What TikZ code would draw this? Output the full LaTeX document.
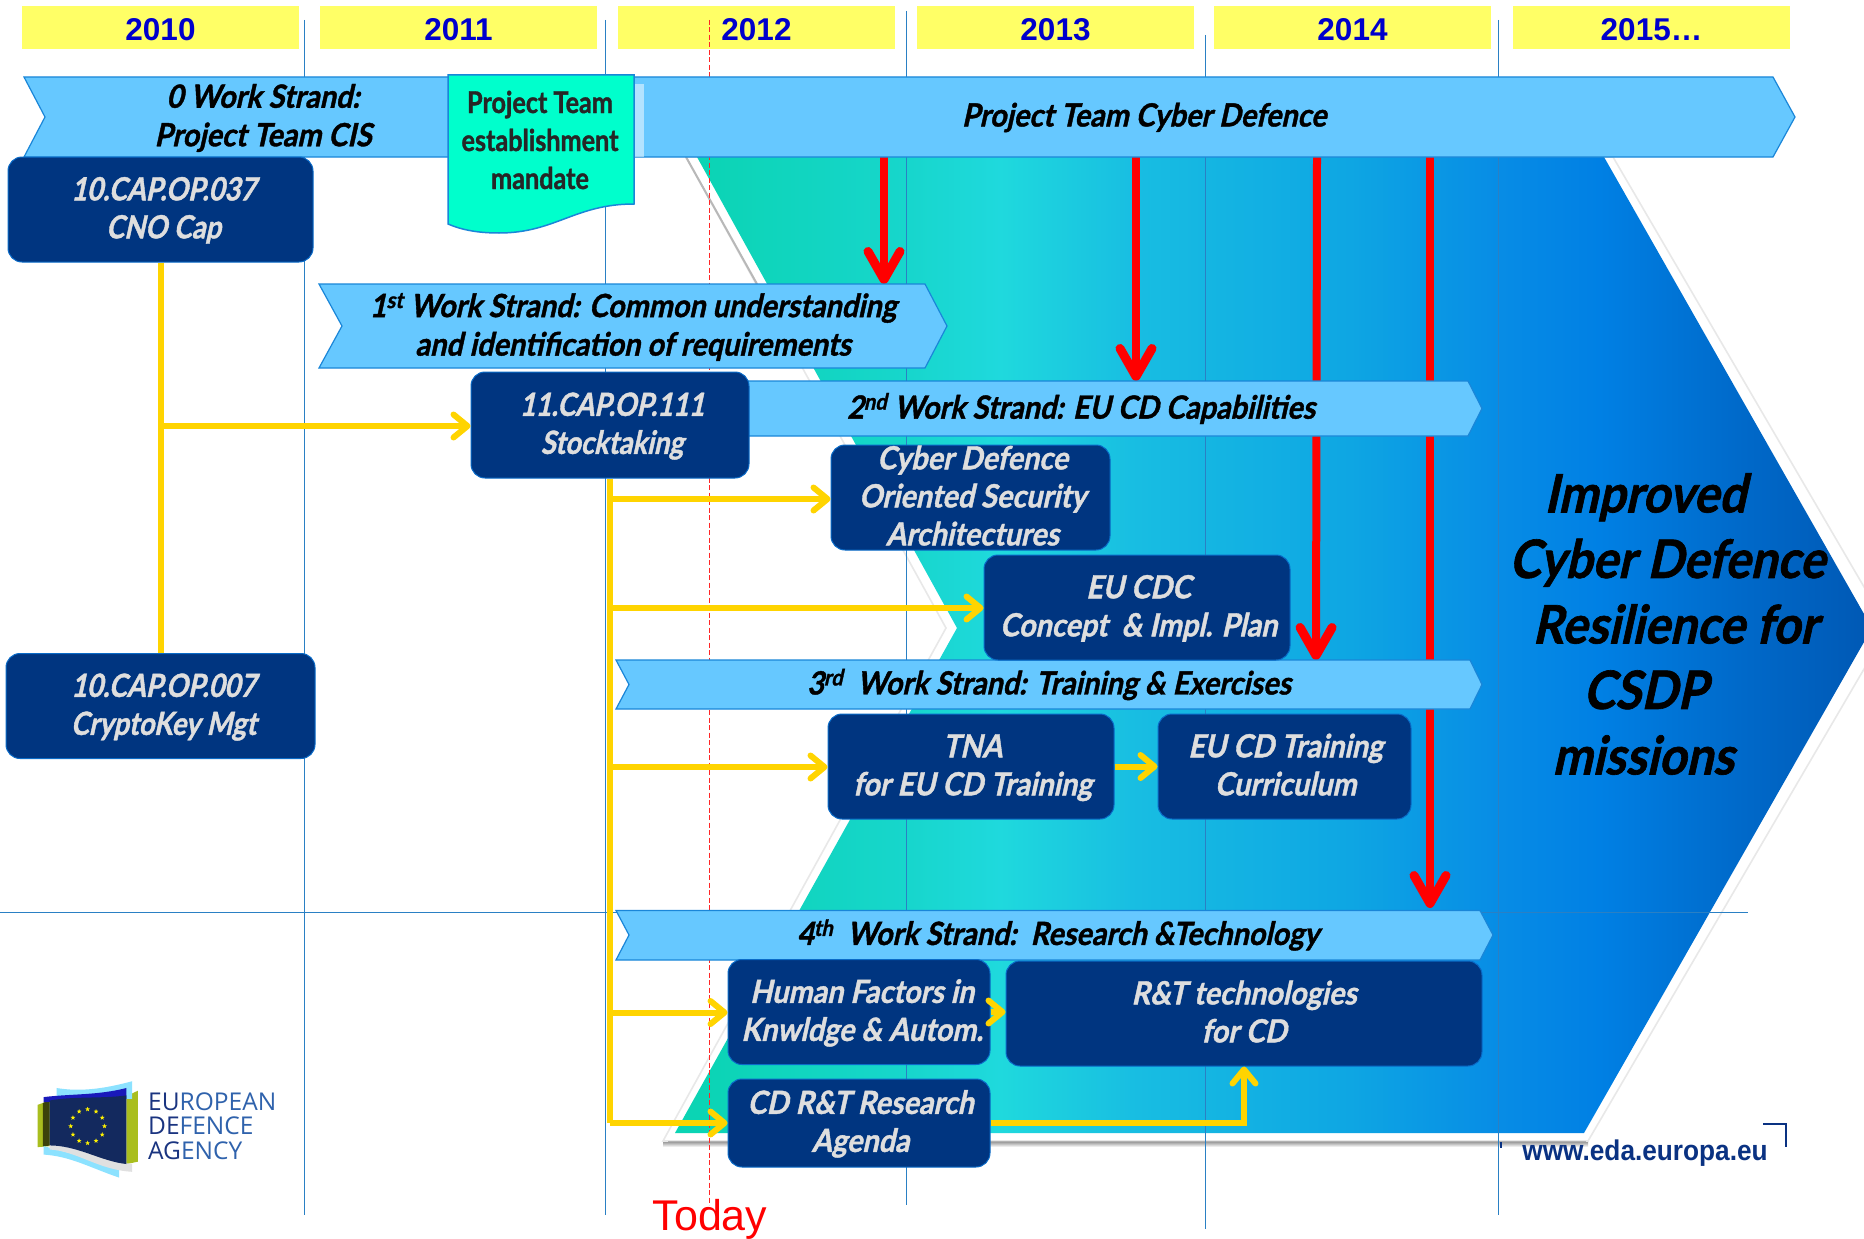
\documentclass[tikz,border=0pt]{standalone}
\usepackage{fontspec}
\setmainfont{Liberation Sans}
\newfontfamily\condfam[FakeStretch=0.9,FakeSlant=0.22,BoldFeatures={FakeBold=1.2}]{Lato}
\newfontfamily\capfam[FakeStretch=0.85,FakeSlant=0.22,BoldFeatures={FakeBold=1.2}]{Lato}
\newfontfamily\docfam[FakeStretch=0.84,BoldFeatures={FakeBold=1.2}]{Lato}
\newfontfamily\narrowfam[FakeStretch=0.92]{Liberation Sans}
\newfontfamily\logofam{Open Sans}
\usetikzlibrary{arrows.meta,shapes.geometric}
\definecolor{yearbg}{HTML}{FFFF66}
\definecolor{yearfg}{HTML}{0000CC}
\definecolor{band}{HTML}{66C8FF}
\definecolor{bandedge}{HTML}{1A86D8}
\definecolor{navybox}{HTML}{003580}
\definecolor{navyedge}{HTML}{0A6BC8}
\definecolor{boxtext}{HTML}{DEDEDE}
\definecolor{gridblue}{HTML}{2A80C4}
\definecolor{docfill}{HTML}{00FFCC}
\definecolor{arrowyellow}{HTML}{FFD400}
\definecolor{logonavy}{HTML}{13295E}
\definecolor{logoolive}{HTML}{A9BE1E}
\definecolor{logoblue}{HTML}{2F62AC}
\definecolor{logodark}{HTML}{1A3480}
\definecolor{weburl}{HTML}{0A3282}
\definecolor{cga}{HTML}{0BD4B4}
\definecolor{cgb}{HTML}{17D6CC}
\definecolor{cgc}{HTML}{1FD9DD}
\definecolor{cgd}{HTML}{18BDE2}
\definecolor{cge}{HTML}{0EA6E3}
\definecolor{cgf}{HTML}{078CE5}
\definecolor{cgg}{HTML}{0080E4}
\definecolor{cgh}{HTML}{0068C8}
\definecolor{cgi}{HTML}{0058B4}
\pgfdeclarehorizontalshading{chevgrad}{100bp}{
 color(0bp)=(cga);
 color(26bp)=(cga);
 color(34.7bp)=(cgb);
 color(38.6bp)=(cgc);
 color(44.3bp)=(cgd);
 color(53.2bp)=(cge);
 color(59.5bp)=(cgf);
 color(63.6bp)=(cgg);
 color(69.9bp)=(cgh);
 color(75bp)=(cgi);
 color(100bp)=(cgi)}
\newcommand{\tx}[2]{\kern#1pt\smash{\raisebox{-8.5pt}{\begin{tabular}{@{}c@{}}#2\end{tabular}}}}
\newcommand{\capcode}[1]{{\capfam\bfseries #1}}
\newcommand{\yr}[1]{\smash{\raisebox{-12.7pt}{#1}}}
\newcommand{\boxfont}{\fontsize{32}{38}\selectfont\condfam\bfseries}
\newcommand{\bandfont}{\fontsize{32}{38.5}\selectfont\condfam\bfseries}
\tikzset{
 x=1pt,y=-1pt,
 yearbox/.style={fill=yearbg,text=yearfg,font=\fontsize{31.5}{36}\selectfont\bfseries,minimum width=277pt,minimum height=43pt,inner sep=0pt},
 gridline/.style={draw=gridblue,line width=1pt},
 strandshape/.style={fill=band,draw=bandedge,line width=1.2pt},
 bandtext/.style={font=\bandfont,text=black,inner sep=0pt},
 capbox/.style={fill=navybox,draw=navyedge,line width=1pt,rounded corners=14pt,inner sep=0pt,text=boxtext,font=\boxfont},
 redlink/.style={draw=red,line width=8pt,-{Straight Barb[length=28pt,width=32pt,line width=9pt,round]}},
 ylink/.style={draw=arrowyellow,line width=6pt,-{Straight Barb[length=14pt,width=23pt,line width=6pt,round]},
   preaction={draw=black!60,opacity=.28,transform canvas={yshift=-2.5pt}}},
 ytrunk/.style={draw=arrowyellow,line width=6pt,
   preaction={draw=black!60,opacity=.25,transform canvas={xshift=-2pt}}},
}
\begin{document}
\begin{tikzpicture}
\useasboundingbox (0,0) rectangle (1864,1239);
\clip (0,0) rectangle (1864,1239);
\fill[white] (0,0) rectangle (1864,1239);

% big chevron
\shade[top color=black!45,bottom color=white] (663,1141) rectangle (1588,1147);
\path[fill=white,draw=black!9,line width=1.6pt] (686,157) -- (946,628) -- (663,1141) -- (1588,1141) -- (1888,628) -- (1613,157) -- cycle;
\draw[black!28,line width=2pt] (686,157) -- (757,284);
\draw[black!30,line width=1.5pt] (668,1141.5) -- (1586,1141.5);
\path[shade,shading=chevgrad] (697,157) -- (957,628) -- (675,1133) -- (1584,1133) -- (1872,628) -- (1604,157) -- cycle;

% grid
\draw[gridline] (304,20) -- (304,1215);
\draw[gridline] (605,20) -- (605,1215);
\draw[gridline] (906,11) -- (906,1205);
\draw[gridline] (1205.5,35) -- (1205.5,1229);
\draw[gridline] (1498,20) -- (1498,1215);
\draw[gridline] (0,912.5) -- (1748,912.5);

% years
\node[yearbox] (y10) at (160.5,28) {\yr{2010}};
\node[yearbox] (y11) at (458.5,28) {\yr{2011}};
\node[yearbox] (y12) at (756.5,28) {\yr{2012}};
\node[yearbox] (y13) at (1055.5,28) {\yr{2013}};
\node[yearbox] (y14) at (1352.5,28) {\yr{2014}};
\node[yearbox] (y15) at (1651.5,28) {\yr{2015\ldots}};

% today
\draw[red!85!white,line width=1pt,dash pattern=on 5pt off 2.5pt] (709,20) -- (709,1205);
\node[text=red,font=\fontsize{43}{48}\selectfont,inner sep=0pt] (today) at (710,1219) {Today};

% red arrows
\coordinate (r1s) at (884,157); \coordinate (r1e) at (884,284);
\coordinate (r2s) at (1136,157); \coordinate (r2e) at (1136,381);
\coordinate (r3s) at (1317,157); \coordinate (r3e) at (1316,660);
\coordinate (r4s) at (1430,157); \coordinate (r4e) at (1430,908);
\draw[redlink] (r1s) -- (r1e);
\draw[redlink] (r2s) -- (r2e);
\draw[redlink] (r3s) -- (r3e);
\draw[redlink] (r4s) -- (r4e);

% top band
\path[strandshape] (24,77) -- (1773,77) -- (1795,117) -- (1773,157) -- (24,157) -- (45,117) -- cycle;
\fill[white,opacity=.5] (634,84) rectangle (644,157);
\node[bandtext,align=center] (b0) at (263,118) {0 Work Strand:\\Project Team CIS};
\node[bandtext] (bcd) at (1144,117.5) {Project Team Cyber Defence};

% mandate document
\path[fill=docfill,draw=bandedge,line width=1.5pt] (448,75) -- (634,75) -- (634,204) .. controls (575,204) and (555,233) .. (499,233) .. controls (478,233) and (462,230) .. (448,224) -- cycle;
\node[inner sep=0pt,align=center,text=black!85,font=\fontsize{30}{38}\selectfont\docfam\bfseries] (doc) at (540,140) {Project Team\\establishment\\mandate};

% strands
\path[strandshape] (319,284) -- (925,284) -- (947,326) -- (925,368) -- (319,368) -- (342,326) -- cycle;
\node[bandtext,align=center] (s1) at (633,327) {1\textsuperscript{st} Work Strand: Common understanding\\and identification of requirements};
\path[strandshape] (735,381) -- (1468,381) -- (1482,408.5) -- (1468,436) -- (735,436) -- cycle;
\node[bandtext] (s2) at (1081,408.5) {2\textsuperscript{nd} Work Strand: EU CD Capabilities};
\path[strandshape] (616,660) -- (1470,660) -- (1482,684.5) -- (1470,709) -- (616,709) -- (629,684.5) -- cycle;
\node[bandtext] (s3) at (1049,684.5) {3\textsuperscript{rd}\ \ Work Strand: Training \& Exercises};
\path[strandshape] (616,910.5) -- (1480,910.5) -- (1493,935) -- (1480,960) -- (616,960) -- (629,935) -- cycle;
\node[bandtext] (s4) at (1058,935) {4\textsuperscript{th}\ \ Work Strand:\ \ Research \&Technology};

% yellow trunks and links (below the boxes)
\coordinate (t1) at (160.5,426);
\coordinate (t2) at (610,499);
\coordinate (t3) at (610,608);
\coordinate (t4) at (610,767);
\coordinate (t5) at (610,1012.5);
\coordinate (t6) at (610,1123);

% boxes
\node[capbox,minimum width=305pt,minimum height=105pt] (A) at (160.5,209.5) {\tx{6}{\capcode{10.CAP.OP.037}\\\capcode{CNO Cap}}};
\node[capbox,minimum width=309pt,minimum height=105pt] (B) at (160.5,706) {\tx{6}{\capcode{10.CAP.OP.007}\\\capcode{CryptoKey Mgt}}};
\node[capbox,minimum width=278pt,minimum height=106pt] (C) at (610,425) {\tx{4}{\capcode{11.CAP.OP.111}\\\capcode{Stocktaking}}};
\node[capbox,minimum width=279pt,minimum height=105pt] (D) at (970.5,497.5) {\tx{4}{Cyber Defence\\Oriented Security\\Architectures}};
\node[capbox,minimum width=306pt,minimum height=105pt] (E) at (1137,607.5) {\tx{3}{EU CDC\\Concept \ \& Impl. Plan}};
\node[capbox,minimum width=286pt,minimum height=105pt] (F) at (971,766.5) {\tx{3}{TNA\\for EU CD Training}};
\node[capbox,minimum width=253pt,minimum height=105pt] (G) at (1284.5,766.5) {\tx{2}{EU CD Training\\Curriculum}};
\node[capbox,minimum width=262pt,minimum height=105pt] (H) at (859,1012) {\tx{6}{Human Factors in\\Knwldge \& Autom.}};
\node[capbox,minimum width=476pt,minimum height=105pt] (I) at (1244,1013.5) {\tx{0}{R\&T technologies\\for CD}};
\node[capbox,minimum width=262pt,minimum height=88pt] (J) at (859,1123) {\tx{3}{CD R\&T Research\\Agenda}};

% links
\draw[ytrunk] (A.south) -- (B.north);
\draw[ytrunk] (C.south) -- (t6);
\draw[ylink] (t1) -- (t1 -| C.west);
\draw[ylink] (t2) -- (t2 -| D.west);
\draw[ylink] (t3) -- (t3 -| E.west);
\draw[ylink] (t4) -- (t4 -| F.west);
\draw[ylink] (t5) -- (t5 -| H.west);
\draw[ylink] (t6) -- (J.west);
\draw[ylink] (F.east) -- (G.west);
\draw[ylink] (H.east) -- (H.east -| I.west);
\draw[ylink] (J.east) -- (J.east -| I.south) -- (I.south);

% outcome text
\node[inner sep=0pt,align=center,text=black,font=\fontsize{53}{65.5}\selectfont\condfam\bfseries] (goal) at (1660,624) {\kern-30pt Improved\\\kern14pt Cyber Defence\\\kern30pt Resilience for\\\kern-30pt CSDP\\\kern-34pt missions};

% web
\node[inner sep=0pt,text=weburl,font=\fontsize{28.5}{30}\selectfont\narrowfam\bfseries] (web) at (1645,1153) {www.eda.europa.eu};
\draw[weburl,line width=1.6pt] (1763,1124) -- (1786,1124) -- (1786,1147);
\draw[weburl,line width=1.4pt] (1501,1142) -- (1501,1148);

% logo
\begin{scope}[shift={(20,1065)},x=0.338pt,y=-0.338pt]
 \fill[logoolive] (52,118) -- (88,105) -- (88,240) -- (52,243) -- cycle;
 \fill[logoolive] (315,92) -- (349,76) -- (349,286) -- (315,293) -- cycle;
 \fill[black!65!logoolive] (68,112) -- (88,105) -- (88,238) -- (68,241) -- cycle;
 \fill[blue!25!cyan!45!white] (108,68) .. controls (180,80) and (250,70) .. (332,48) -- (332,100) -- (108,100) -- cycle;
 \fill[blue!25!cyan!45!white] (70,240) -- (70,265) .. controls (150,270) and (210,305) .. (293,333) -- (293,300) -- cycle;
 \fill[black!12] (88,238) .. controls (160,235) and (220,280) .. (332,293) -- (332,316) .. controls (230,310) and (170,255) .. (88,250) -- cycle;
 \fill[blue!70!black!90] (70,95) .. controls (150,85) and (230,90) .. (315,68) -- (315,100) -- (70,110) -- cycle;
 \fill[logonavy] (88,105) .. controls (160,92) and (240,100) .. (315,90) -- (315,293) .. controls (240,285) and (170,238) .. (88,238) -- cycle;
 \foreach \i in {0,...,11}
  \node[star,star points=5,star point ratio=2.4,fill=yellow,inner sep=0pt,minimum size=5pt] (st\i) at ({200+50*cos(30*\i)},{181+50*sin(30*\i)}) {};
\end{scope}
\node[anchor=west,inner sep=0pt,text=logoblue,font=\fontsize{24.5}{26}\selectfont\logofam] (lg1) at (148,1102) {\textcolor{logodark}{EU}ROPEAN};
\node[anchor=west,inner sep=0pt,text=logoblue,font=\fontsize{24.5}{26}\selectfont\logofam] (lg2) at (148,1126) {\textcolor{logodark}{DE}FENCE};
\node[anchor=west,inner sep=0pt,text=logoblue,font=\fontsize{24.5}{26}\selectfont\logofam] (lg3) at (148,1151) {\textcolor{logodark}{AG}ENCY};
\end{tikzpicture}
\end{document}
